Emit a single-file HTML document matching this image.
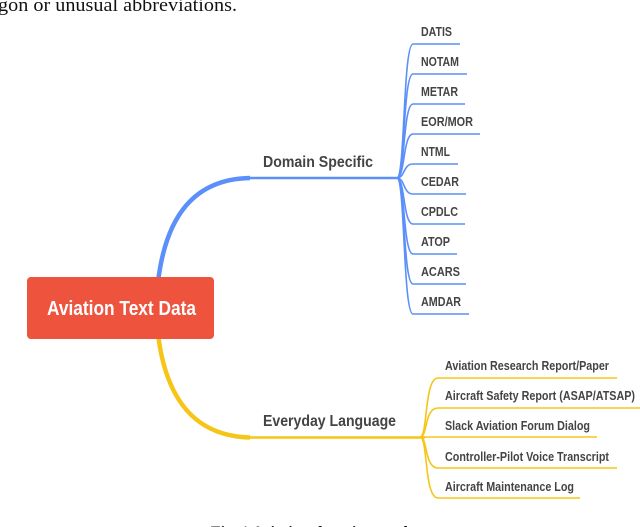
<!DOCTYPE html>
<html><head><style>
body{margin:0;width:640px;height:527px;overflow:hidden;background:#fff}
svg{display:block}
.l{font-family:"Liberation Sans",sans-serif;font-weight:bold;font-size:12.5px;fill:#444}
.m{font-family:"Liberation Sans",sans-serif;font-weight:bold;font-size:16px;fill:#444}
</style></head><body>
<svg width="640" height="527" viewBox="0 0 640 527">
<text x="-2" y="11" font-family="Liberation Serif,serif" font-size="19" fill="#111" textLength="239" lengthAdjust="spacingAndGlyphs">gon or unusual abbreviations.</text>
<!-- blue main -->
<path d="M158,282 C166,215 195,179 250,178" fill="none" stroke="#5b8ff9" stroke-width="4.5"/>
<path d="M248,178 L400,178" fill="none" stroke="#5b8ff9" stroke-width="2.5"/>
<text class="m" x="263" y="167" textLength="110" lengthAdjust="spacingAndGlyphs">Domain Specific</text>
<g fill="none" stroke="#5b8ff9" stroke-width="1.6">
<path d="M397,178 C405,178 403,44 413,44 L460,44"/>
<path d="M397,178 C405,178 403,74 413,74 L467,74"/>
<path d="M397,178 C405,178 403,104 413,104 L465,104"/>
<path d="M397,178 C405,178 403,134 413,134 L480,134"/>
<path d="M397,178 C405,178 403,164 413,164 L458,164"/>
<path d="M397,178 C405,178 403,194 413,194 L466,194"/>
<path d="M397,178 C405,178 403,224 413,224 L465,224"/>
<path d="M397,178 C405,178 403,254 413,254 L457,254"/>
<path d="M397,178 C405,178 403,284 413,284 L466,284"/>
<path d="M397,178 C405,178 403,314 413,314 L469,314"/>
</g>
<text class="l" x="421" y="36" textLength="31" lengthAdjust="spacingAndGlyphs">DATIS</text>
<text class="l" x="421" y="66" textLength="38" lengthAdjust="spacingAndGlyphs">NOTAM</text>
<text class="l" x="421" y="96" textLength="37" lengthAdjust="spacingAndGlyphs">METAR</text>
<text class="l" x="421" y="126" textLength="52" lengthAdjust="spacingAndGlyphs">EOR/MOR</text>
<text class="l" x="421" y="156" textLength="29" lengthAdjust="spacingAndGlyphs">NTML</text>
<text class="l" x="421" y="186" textLength="38" lengthAdjust="spacingAndGlyphs">CEDAR</text>
<text class="l" x="421" y="216" textLength="37" lengthAdjust="spacingAndGlyphs">CPDLC</text>
<text class="l" x="421" y="246" textLength="29" lengthAdjust="spacingAndGlyphs">ATOP</text>
<text class="l" x="421" y="276" textLength="39" lengthAdjust="spacingAndGlyphs">ACARS</text>
<text class="l" x="421" y="306" textLength="40" lengthAdjust="spacingAndGlyphs">AMDAR</text>
<!-- yellow main -->
<path d="M158,334 C166,400 195,436 250,437.5" fill="none" stroke="#f5c518" stroke-width="4.5"/>
<path d="M248,437.5 L425,437.5" fill="none" stroke="#f5c518" stroke-width="2.5"/>
<text class="m" x="263" y="426" textLength="133" lengthAdjust="spacingAndGlyphs">Everyday Language</text>
<g fill="none" stroke="#f5c518" stroke-width="1.6">
<path d="M420,437 C428,437 424,378 438,378 L617,378"/>
<path d="M420,437 C428,437 424,408 438,408 L640,408"/>
<path d="M420,437 L597,437"/>
<path d="M420,437 C428,437 424,468 438,468 L617,468"/>
<path d="M420,437 C428,437 424,498 438,498 L580,498"/>
</g>
<text class="l" x="445" y="370" textLength="164" lengthAdjust="spacingAndGlyphs">Aviation Research Report/Paper</text>
<text class="l" x="445" y="400" textLength="190" lengthAdjust="spacingAndGlyphs">Aircraft Safety Report (ASAP/ATSAP)</text>
<text class="l" x="445" y="430" textLength="145" lengthAdjust="spacingAndGlyphs">Slack Aviation Forum Dialog</text>
<text class="l" x="445" y="461" textLength="164" lengthAdjust="spacingAndGlyphs">Controller-Pilot Voice Transcript</text>
<text class="l" x="445" y="491" textLength="129" lengthAdjust="spacingAndGlyphs">Aircraft Maintenance Log</text>
<!-- root -->
<rect x="27" y="277" width="187" height="62" rx="4" fill="#ee533e"/>
<text x="47" y="315" font-family="Liberation Sans,sans-serif" font-weight="bold" font-size="20" fill="#fff" textLength="149" lengthAdjust="spacingAndGlyphs">Aviation Text Data</text>
<text x="320" y="537" text-anchor="middle" font-family="Liberation Serif,serif" font-weight="bold" font-size="16" fill="#111">Fig. 1 Aviation domain text data</text>
</svg>
</body></html>
